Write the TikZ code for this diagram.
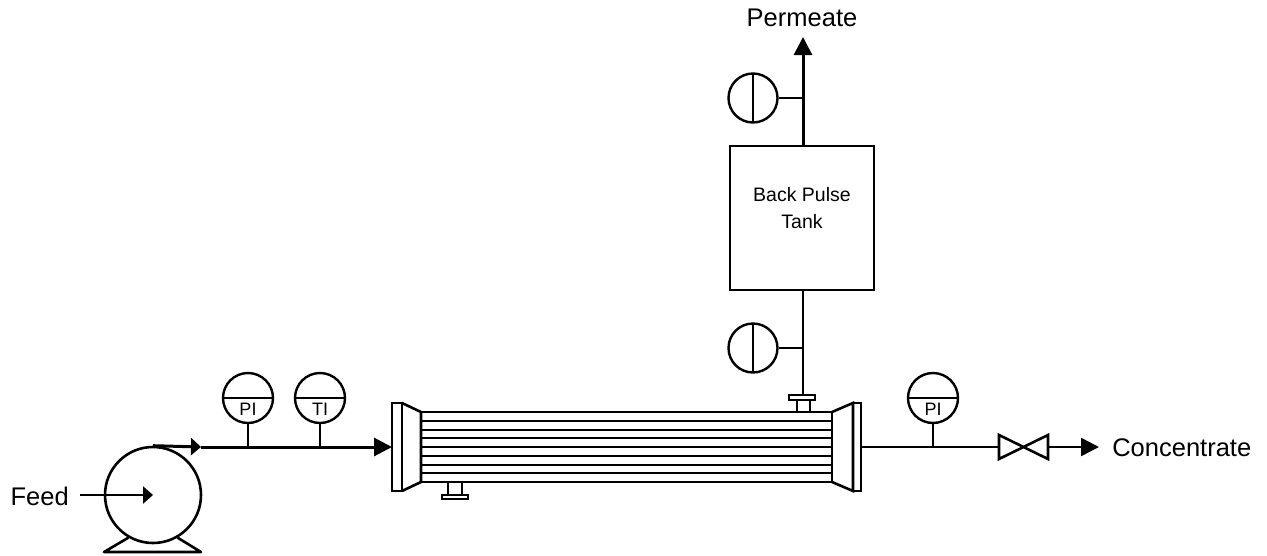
\documentclass[tikz,border=0pt]{standalone}
\usepackage{fontspec}
\setmainfont{Liberation Sans}
\usetikzlibrary{arrows.meta}
\tikzset{every path/.style={black,line width=2.6pt},
  pipe/.style={line width=3pt},
  tube/.style={line width=2pt},
  tip/.style={-{Triangle[length=18pt,width=18pt]}},
  short tip/.style={-{Triangle[length=10pt,width=17pt]}},
  gauge/.style={circle,draw,line width=2.4pt,minimum size=50pt,inner sep=0pt,
    path picture={\draw[line width=2.6pt] (path picture bounding box.west) -- (path picture bounding box.east);}},
  sight/.style={circle,draw,line width=2.4pt,minimum size=49pt,inner sep=0pt,
    path picture={\draw[line width=2.6pt] (path picture bounding box.north) -- (path picture bounding box.south);}},
  gtext/.style={inner sep=0pt,font=\fontsize{18}{20}\selectfont},
  label/.style={inner sep=0pt,font=\fontsize{25.5}{30}\selectfont}}

\begin{document}
\begin{tikzpicture}[x=1pt,y=-1pt]
  \useasboundingbox (0,0) rectangle (1267,555);
  \node[circle,draw,line width=2.6pt,minimum size=96pt,inner sep=0pt] (pump) at (153,495) {};
  \draw[line join=round] (pump.-120) -- (104,552) -- (201,552) -- (pump.-60);
  \node[label,anchor=east] (feed) at (70,496) {Feed};
  \draw[short tip] (80,495) -- (pump.center);
  \coordinate (dis) at (201,447);
  \coordinate (hxin) at (392,447);
  \draw[pipe,short tip] (pump.north) -- (dis);
  \draw[pipe,tip] (dis) -- (hxin);
  \node[gauge] (pi1) at (248,398) {};
  \node[gtext] (pi1t) at ([yshift=-11.5pt]pi1.center) {PI};
  \draw (pi1.south) -- (pi1.south |- hxin);
  \node[gauge] (ti1) at (320,398) {};
  \node[gtext] (ti1t) at ([yshift=-11.5pt]ti1.center) {TI};
  \draw (ti1.south) -- (ti1.south |- hxin);
  \begin{scope}
   \draw (392,403) rectangle (402,491);
   \draw (402,403) -- (421,412) -- (421,482) -- (402,491);
   \draw (421,412) rectangle (832,482);
   \foreach \k in {1,...,7}
     \draw[tube] (421,412+8.75*\k) -- (832,412+8.75*\k);
   \draw (832,412) -- (853,403) -- (853,491) -- (832,482);
   \draw (853,403) rectangle (861,491);
   \draw (448,482) rectangle (462,495);
   \draw (442,495) rectangle (468,499);
   \draw (797,400) rectangle (810,412);
   \draw (789,395) rectangle (815,400);
   \coordinate (hxout) at (861,447);
   \coordinate (perm) at (803,395);
  \end{scope}
  \node[draw,line width=2.4pt,minimum width=144pt,minimum height=144pt,inner sep=0pt] (tank) at (802,218) {};
  \node[inner sep=0pt,align=center,font=\fontsize{19.5}{27}\selectfont] (tankt) at (802,208) {Back Pulse\\Tank};
  \draw (perm) -- (perm |- tank.south);
  \node[sight] (fi1) at (753,348) {};
  \draw[line width=2.2pt] (fi1.east) -- (fi1.east -| perm);
  \node[label] (permt) at (802,18) {Permeate};
  \coordinate (ptop) at (803,37);
  \draw[pipe,tip] (tank.north -| perm) -- (ptop);
  \node[sight] (fi2) at (753,98) {};
  \draw[line width=2.2pt] (fi2.east) -- (fi2.east -| perm);
  \coordinate (vin) at (999,447);
  \coordinate (vout) at (1048,447);
  \draw (hxout) -- (vin);
  \draw (999,435) -- (1048,459) -- (1048,435) -- (999,459) -- cycle;
  \node[gauge] (pi2) at (933,398) {};
  \node[gtext] (pi2t) at ([yshift=-11.5pt]pi2.center) {PI};
  \draw (pi2.south) -- (pi2.south |- hxout);
  \node[label,anchor=west] (conc) at (1111,448) {Concentrate};
  \draw[tip] (vout) -- (1099,447);
\end{tikzpicture}
\end{document}
